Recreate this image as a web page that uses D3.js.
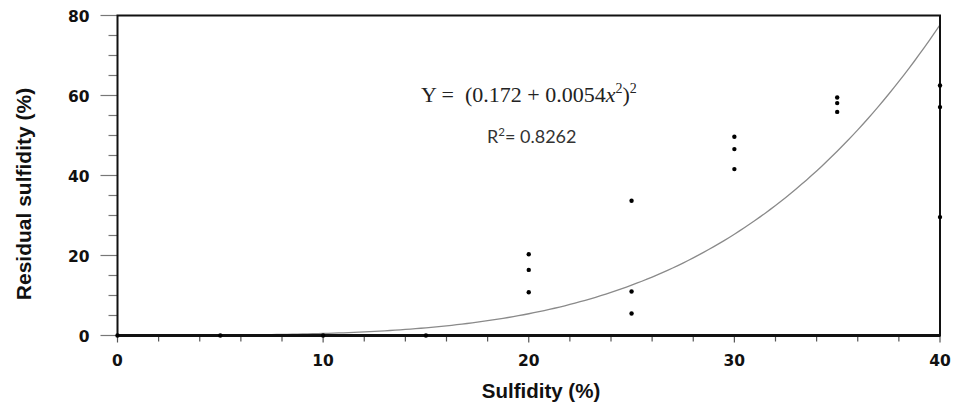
<!DOCTYPE html>
<html><head><meta charset="utf-8">
<script src="https://cdn.jsdelivr.net/npm/d3@7"></script>
<style>body{margin:0;background:#fff}svg{display:block}</style>
</head><body>
<svg id="c" width="953" height="405"></svg>
<script>
const pointX = [0,5,10,15,20,20,20,25,25,25,30,30,30,35,35,35,40,40,40];
const pointY = [0,0,0,0,20.3,16.4,10.8,33.7,11.0,5.5,49.7,46.6,41.6,59.5,58.1,55.9,62.5,57.1,29.6];
const xTicks = [0,10,20,30,40];
const yTicks = [0,20,40,60,80];
const fitA = 0.172, fitB = 0.0054;

const svg = d3.select('#c');
const L = 117.5, R = 940, T = 15.5, B = 335.5;
const x = d3.scaleLinear().domain([0,40]).range([L,R]);
const y = d3.scaleLinear().domain([0,80]).range([B,T]);

const xMinor = d3.range(0,41,2).filter(v=>!xTicks.includes(v));
const yMinor = d3.range(0,81,5).filter(v=>!yTicks.includes(v));

const g = svg.append('g');
g.selectAll('.ymin').data(yMinor).enter().append('line')
 .attr('x1',L-9).attr('x2',L).attr('y1',d=>y(d)).attr('y2',d=>y(d))
 .attr('stroke','#777').attr('stroke-width',1.2);
g.selectAll('.ymaj').data(yTicks).enter().append('line')
 .attr('x1',L-17).attr('x2',L).attr('y1',d=>y(d)).attr('y2',d=>y(d))
 .attr('stroke','#777').attr('stroke-width',1.2);
g.selectAll('.xmin').data(xMinor).enter().append('line')
 .attr('x1',d=>x(d)).attr('x2',d=>x(d)).attr('y1',B).attr('y2',B+6)
 .attr('stroke','#555').attr('stroke-width',1.2);
g.selectAll('.xmaj').data(xTicks).enter().append('line')
 .attr('x1',d=>x(d)).attr('x2',d=>x(d)).attr('y1',B).attr('y2',B+7)
 .attr('stroke','#555').attr('stroke-width',1.2);

g.selectAll('.yl').data(yTicks).enter().append('text')
 .attr('x',L-28).attr('y',d=>y(d)+1).attr('dy','0.36em').attr('text-anchor','end')
 .attr('font-family','DejaVu Sans').attr('font-weight','bold').attr('font-size',15.5)
 .attr('fill','#111').text(d=>d);
g.selectAll('.xl').data(xTicks).enter().append('text')
 .attr('x',d=>x(d)).attr('y',366).attr('text-anchor','middle')
 .attr('font-family','DejaVu Sans').attr('font-weight','bold').attr('font-size',15.5)
 .attr('fill','#111').text(d=>d);

svg.append('text').attr('x',541).attr('y',398).attr('text-anchor','middle')
 .attr('font-family','Liberation Sans').attr('font-weight','bold').attr('font-size',20.5)
 .attr('fill','#111').text('Sulfidity (%)');
svg.append('text').attr('transform','translate(31,194) rotate(-90)').attr('text-anchor','middle')
 .attr('font-family','Liberation Sans').attr('font-weight','bold').attr('font-size',21)
 .attr('fill','#111').text('Residual sulfidity (%)');

const curveX = d3.range(0,40.001,0.25);
svg.append('clipPath').attr('id','cp').append('rect')
 .attr('x',L).attr('y',T).attr('width',R-L).attr('height',B-T);
svg.append('path').datum(curveX)
 .attr('clip-path','url(#cp)')
 .attr('d',d3.line().x(d=>x(d)).y(d=>y(Math.pow(fitA+fitB*d*d,2))))
 .attr('fill','none').attr('stroke','#8a8a8a').attr('stroke-width',1.3);

svg.append('rect').attr('x',L).attr('y',T).attr('width',R-L).attr('height',B-T)
 .attr('fill','none').attr('stroke','#111').attr('stroke-width',2);
svg.append('line').attr('x1',L).attr('x2',R).attr('y1',B).attr('y2',B)
 .attr('stroke','#111').attr('stroke-width',3);

svg.selectAll('.pt').data(pointX.map((v,i)=>[v,pointY[i]])).enter().append('circle')
 .attr('cx',d=>x(d[0])).attr('cy',d=>y(d[1])).attr('r',2.2).attr('fill','#000');

const eq = svg.append('text').attr('x',421).attr('y',102)
 .attr('font-family','Liberation Serif').attr('font-size',22).attr('fill','#222')
 .attr('xml:space','preserve').style('white-space','pre');
eq.append('tspan').text('Y =  (0.172 + 0.0054');
eq.append('tspan').attr('font-style','italic').text('x');
eq.append('tspan').attr('font-size',14).attr('dy',-9).text('2');
eq.append('tspan').attr('dy',9).text(')');
eq.append('tspan').attr('font-size',14).attr('dy',-9).text('2');

const r2 = svg.append('text').attr('x',487).attr('y',143)
 .attr('font-family','Lato').attr('font-size',18).attr('fill','#333');
r2.append('tspan').text('R');
r2.append('tspan').attr('font-size',11.5).attr('dy',-7).text('2');
r2.append('tspan').attr('dy',7).text('= 0.8262');
</script>
</body></html>
